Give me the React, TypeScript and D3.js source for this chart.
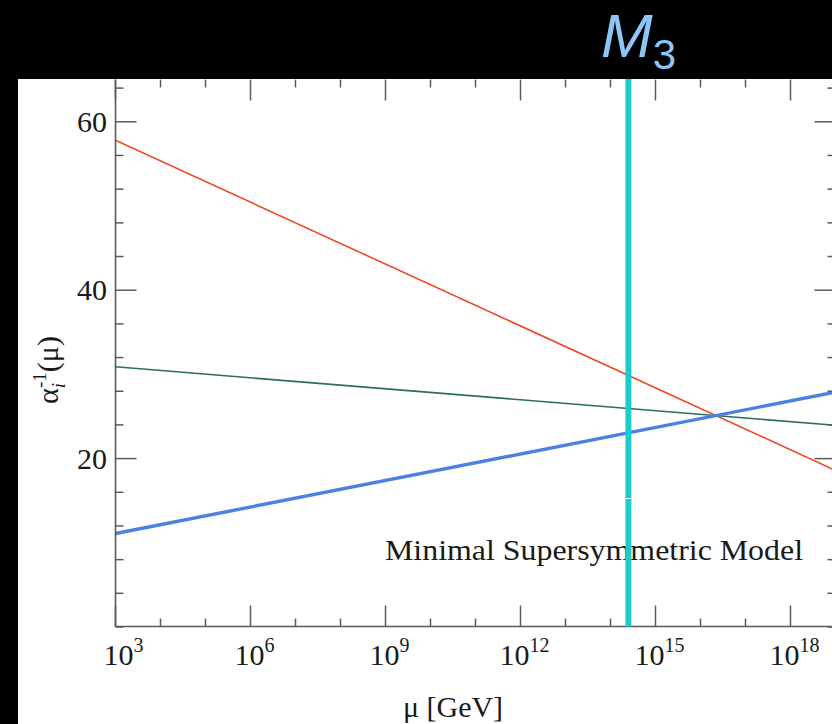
import React from "react";
import * as d3 from "d3";

// Data
const muEnds = [1e3, 1e19];
const alpha1Inv = [57.8, 18.6]; // red
const alpha2Inv = [30.9, 23.95]; // green
const alpha3Inv = [11.1, 27.9]; // blue
const m3Scale = 2.5e14;
const xMajorExp = [3, 6, 9, 12, 15, 18];
const xMinorExp = d3.range(3, 20);
const yMajor = [20, 40, 60];
const yMinor = d3.range(0, 65, 4);
const annotation = "Minimal Supersymmetric Model";

const W = 832;
const H = 724;

export default function App() {
  const x = d3.scaleLog().domain([1e3, 1e19]).range([115.5, 835.5]);
  const y = d3.scaleLinear().domain([0, 65]).range([627, 79.7]);
  const top = 79.5;
  const bottom = 626.5;
  const left = 115.5;
  const right = 835.5;
  const axisColor = "#5a5a5a";

  const series = [
    { vals: alpha1Inv, color: "#ef4a2c", w: 1.6 },
    { vals: alpha2Inv, color: "#2c6e5e", w: 1.6 },
    { vals: alpha3Inv, color: "#4b80e4", w: 3.4 },
  ];
  const line = d3
    .line<[number, number]>()
    .x((d) => x(d[0]))
    .y((d) => y(d[1]));

  const cx = x(m3Scale);
  const serif = "'Liberation Serif', 'Times New Roman', serif";

  return (
    <svg
      width={W}
      height={H}
      style={{ position: "absolute", left: 0, top: 0, display: "block" }}
    >
      <defs>
        <clipPath id="plotclip">
          <rect x={left} y={top} width={right - left} height={bottom - top} />
        </clipPath>
      </defs>
      <rect x={0} y={0} width={W} height={H} fill="#000" />
      <rect x={18} y={79} width={W - 18} height={H - 79} fill="#fff" />

      {/* series lines */}
      <g clipPath="url(#plotclip)">
        {series.map((s, i) => (
          <path
            key={i}
            d={line(muEnds.map((m, j) => [m, s.vals[j]]) as [number, number][]) || ""}
            fill="none"
            stroke={s.color}
            strokeWidth={s.w}
          />
        ))}
      </g>

      {/* axes frame */}
      <line x1={left} x2={left} y1={top} y2={bottom + 0.5} stroke={axisColor} strokeWidth={1.6} />
      <line x1={left} x2={right} y1={bottom} y2={bottom} stroke={axisColor} strokeWidth={1.6} />
      <line x1={right} x2={right} y1={top} y2={bottom} stroke={axisColor} strokeWidth={1.6} />

      {/* x ticks bottom & top */}
      {xMinorExp.map((e) => {
        const major = xMajorExp.includes(e);
        const len = major ? 21 : 8;
        const xx = x(Math.pow(10, e));
        return (
          <g key={"xt" + e}>
            <line x1={xx} x2={xx} y1={bottom} y2={bottom - len} stroke={axisColor} strokeWidth={1.5} />
            <line x1={xx} x2={xx} y1={top} y2={top + len} stroke={axisColor} strokeWidth={1.5} />
          </g>
        );
      })}
      {/* y ticks left & right */}
      {yMinor.map((v) => {
        const major = yMajor.includes(v);
        const len = major ? 21 : 8;
        const yy = y(v);
        return (
          <g key={"yt" + v}>
            <line x1={left} x2={left + len} y1={yy} y2={yy} stroke={axisColor} strokeWidth={1.5} />
            <line x1={right} x2={right - len} y1={yy} y2={yy} stroke={axisColor} strokeWidth={1.5} />
          </g>
        );
      })}

      {/* y tick labels */}
      {yMajor.map((v) => (
        <text
          key={"yl" + v}
          x={107}
          y={y(v) + 10}
          textAnchor="end"
          fontFamily={serif}
          fontSize={30}
          fill="#1a1a1a"
        >
          {v}
        </text>
      ))}

      {/* x tick labels */}
      {xMajorExp.map((e) => (
        <text
          key={"xl" + e}
          x={x(Math.pow(10, e)) + (e === 3 ? 8 : 4)}
          y={665}
          textAnchor="middle"
          fontFamily={serif}
          fontSize={30}
          fill="#1a1a1a"
        >
          10
          <tspan dy={-13} fontSize={20}>
            {e}
          </tspan>
        </text>
      ))}

      {/* axis titles */}
      <text
        x={453}
        y={717}
        textAnchor="middle"
        fontFamily={serif}
        fontSize={30}
        fill="#1a1a1a"
      >
        μ [GeV]
      </text>
      <g transform="translate(58,370) rotate(-90)">
        <text textAnchor="middle" fontFamily={serif} fontSize={30} fill="#1a1a1a">
          α
          <tspan dy={7} fontSize={19} fontStyle="italic">
            i
          </tspan>
          <tspan dx={-5} dy={-19} fontSize={19}>
            -1
          </tspan>
          <tspan dy={12}>(μ)</tspan>
        </text>
      </g>

      {/* annotation */}
      <text
        x={385}
        y={560}
        fontFamily={serif}
        fontSize={30}
        textLength={418}
        lengthAdjust="spacingAndGlyphs"
        fill="#1a1a1a"
      >
        {annotation}
      </text>

      {/* M3 marker */}
      <rect x={cx - 3} y={79} width={6} height={419} fill="#1ccccc" />
      <rect x={cx - 3} y={499} width={6} height={bottom - 499} fill="#1ccccc" />
      <text
        x={601}
        y={57}
        fontFamily="'Liberation Sans', Arial, sans-serif"
        fontSize={62}
        fontStyle="italic"
        fill="#8cc6f8"
      >
        M
        <tspan dy={12} fontSize={42} fontStyle="normal">
          3
        </tspan>
      </text>
    </svg>
  );
}
